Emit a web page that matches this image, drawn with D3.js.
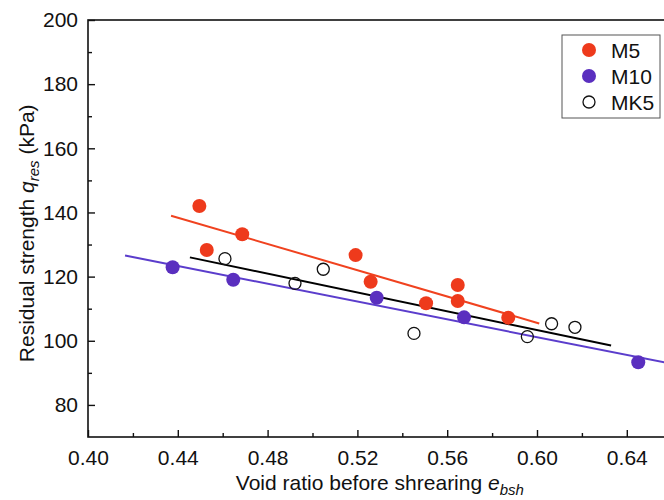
<!DOCTYPE html>
<html>
<head>
<meta charset="utf-8">
<script src="https://cdn.jsdelivr.net/npm/d3@7/dist/d3.min.js"></script>
<style>
  html, body { margin: 0; padding: 0; background: #fff; }
  svg { display: block; font-family: Arial, "Liberation Sans", sans-serif; }
</style>
</head>
<body>
<svg id="chart" width="664" height="500"></svg>
<script>
// Residual strength versus void ratio before shearing, three test series
const m5Void = [0.4496, 0.4529, 0.4687, 0.5192, 0.5259, 0.5506, 0.5647, 0.5647, 0.5872];
const m5Strength = [142.0, 128.3, 133.2, 126.7, 118.4, 111.7, 117.4, 112.4, 107.2];

const m10Void = [0.4377, 0.4647, 0.5286, 0.5675, 0.6451];
const m10Strength = [122.9, 119.0, 113.4, 107.3, 93.3];

const mk5Void = [0.4610, 0.4922, 0.5048, 0.5452, 0.5957, 0.6065, 0.6169];
const mk5Strength = [125.6, 117.9, 122.3, 102.3, 101.3, 105.3, 104.2];

// Linear trend lines: [start, end] void ratio and strength
const m5FitVoid = [0.4370, 0.6010];
const m5FitStrength = [139.0, 105.4];
const m10FitVoid = [0.4165, 0.6600];
const m10FitStrength = [126.6, 92.8];
const mk5FitVoid = [0.4454, 0.6330];
const mk5FitStrength = [126.0, 98.5];

const xTicks = [0.40, 0.44, 0.48, 0.52, 0.56, 0.60, 0.64];
const yTicks = [80, 100, 120, 140, 160, 180, 200];
const seriesNames = ["M5", "M10", "MK5"];

const RED = "#ee3a1c";
const PURPLE = "#5a2fbf";
const FONT = "Arial, 'Liberation Sans', sans-serif";

const svg = d3.select("#chart");
const plotLeft = 88, plotTop = 20, plotBottom = 437;

const x = d3.scaleLinear().domain([0.40, 0.66]).range([plotLeft, plotLeft + 89.8 / 0.04 * 0.26]);
const y = d3.scaleLinear().domain([70, 200]).range([plotBottom, plotTop]);

// frame
svg.append("rect")
  .attr("x", x(0.40)).attr("y", y(200))
  .attr("width", x(0.66) - x(0.40)).attr("height", y(70) - y(200))
  .attr("fill", "none").attr("stroke", "#111").attr("stroke-width", 1.6);

// x axis with inward ticks
const xMinor = d3.range(0.42, 0.66, 0.04);
const xAxisG = svg.append("g").attr("transform", `translate(0,${plotBottom})`);
xAxisG.append("g").call(d3.axisBottom(x).tickValues(xMinor).tickSize(-4).tickFormat(""));
xAxisG.append("g").call(d3.axisBottom(x).tickValues(xTicks).tickSize(-7).tickFormat(d3.format(".2f")).tickPadding(13));
xAxisG.selectAll(".domain").remove();
xAxisG.selectAll("line").attr("stroke", "#111").attr("stroke-width", 1.4);
xAxisG.selectAll("text").attr("font-size", 21).attr("fill", "#111").attr("font-family", FONT);

// y axis with inward ticks
const yMinor = d3.range(90, 200, 20);
const yAxisG = svg.append("g").attr("transform", `translate(${plotLeft},0)`);
yAxisG.append("g").call(d3.axisLeft(y).tickValues(yMinor).tickSize(-4).tickFormat(""));
yAxisG.append("g").call(d3.axisLeft(y).tickValues(yTicks).tickSize(-7).tickPadding(10));
yAxisG.selectAll(".domain").remove();
yAxisG.selectAll("line").attr("stroke", "#111").attr("stroke-width", 1.4);
yAxisG.selectAll("text").attr("font-size", 21).attr("fill", "#111").attr("font-family", FONT);

// axis titles
const xTitle = svg.append("text")
  .attr("x", x(0.53)).attr("y", 490)
  .attr("text-anchor", "middle").attr("font-size", 21).attr("fill", "#111");
xTitle.append("tspan").text("Void ratio before shrearing ");
xTitle.append("tspan").attr("font-style", "italic").text("e");
xTitle.append("tspan").attr("font-style", "italic").attr("font-size", 15).attr("dy", 5).text("bsh");

const yTitle = svg.append("text")
  .attr("transform", `translate(34,${y(133.5)}) rotate(-90)`)
  .attr("text-anchor", "middle").attr("font-size", 21).attr("fill", "#111");
yTitle.append("tspan").text("Residual strength ");
yTitle.append("tspan").attr("font-style", "italic").text("q");
yTitle.append("tspan").attr("font-style", "italic").attr("font-size", 15).attr("dy", 5).text("res");
yTitle.append("tspan").attr("dy", -5).text(" (kPa)");

// trend lines
const line = d3.line().x(d => x(d[0])).y(d => y(d[1]));
function drawFit(vs, ss, color) {
  svg.append("path")
    .attr("d", line(d3.zip(vs, ss)))
    .attr("fill", "none").attr("stroke", color).attr("stroke-width", 2);
}
drawFit(m5FitVoid, m5FitStrength, "#f0421f");
drawFit(m10FitVoid, m10FitStrength, "#5b3dcc");
drawFit(mk5FitVoid, mk5FitStrength, "#000");

// data points
function drawPoints(vs, ss, fill, stroke) {
  const open = fill === "none";
  svg.append("g").selectAll("circle")
    .data(d3.zip(vs, ss))
    .join("circle")
    .attr("cx", d => x(d[0])).attr("cy", d => y(d[1]))
    .attr("r", open ? 6 : 7)
    .attr("fill", open ? "none" : fill)
    .attr("stroke", stroke).attr("stroke-width", open ? 1.3 : 0);
}
drawPoints(m5Void, m5Strength, RED, RED);
drawPoints(m10Void, m10Strength, PURPLE, PURPLE);
drawPoints(mk5Void, mk5Strength, "none", "#111");

// legend
const lg = svg.append("g");
lg.append("rect").attr("x", 562).attr("y", 35).attr("width", 98).attr("height", 83)
  .attr("fill", "#fff").attr("stroke", "#555").attr("stroke-width", 1);
const legendStyles = [
  { fill: RED, stroke: RED, r: 7, sw: 0 },
  { fill: PURPLE, stroke: PURPLE, r: 7, sw: 0 },
  { fill: "#fff", stroke: "#111", r: 6, sw: 1.3 }
];
seriesNames.forEach((name, i) => {
  const cy = 50 + i * 26;
  const st = legendStyles[i];
  lg.append("circle").attr("cx", 589).attr("cy", cy).attr("r", st.r)
    .attr("fill", st.fill).attr("stroke", st.stroke).attr("stroke-width", st.sw);
  lg.append("text").attr("x", 611).attr("y", cy + 7.5)
    .attr("font-size", 21).attr("fill", "#111").attr("font-family", FONT).text(name);
});
</script>
</body>
</html>
